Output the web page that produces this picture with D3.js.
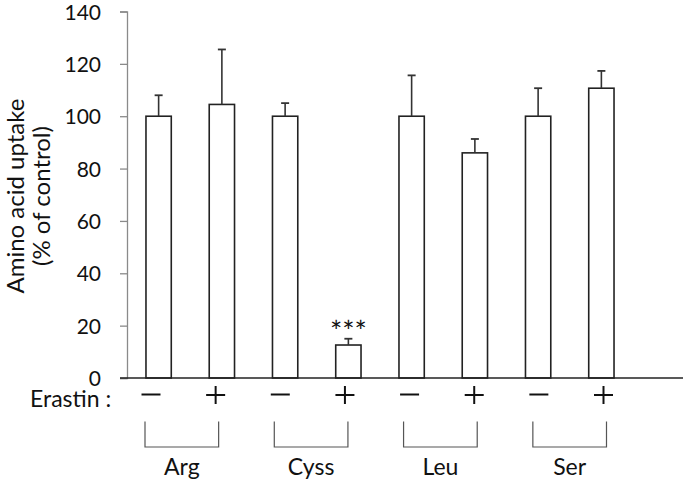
<!DOCTYPE html>
<html><head><meta charset="utf-8">
<script src="https://cdn.jsdelivr.net/npm/d3@7"></script>
<style>body{margin:0;background:#fff}svg{display:block}text{font-family:Lato,"Open Sans",sans-serif;fill:#111}</style>
</head><body><svg id="c" width="685" height="482"></svg>
<script>
const groups = ["Arg","Cyss","Leu","Ser"];
const treatments = ["−","+"];
const categories = ["Arg −","Arg +","Cyss −","Cyss +","Leu −","Leu +","Ser −","Ser +"];
const values = [100,104.5,100,12.6,100,86,100,110.7];
const errors = [8,21,5,2.4,15.6,5.3,10.7,6.6];
const stars = ["","","","***","","","",""];
const yTicks = [0,20,40,60,80,100,120,140];

const svg = d3.select("#c");
const y = d3.scaleLinear().domain([0,140]).range([378,11.5]);
const x = d3.scaleBand().domain(categories).range([127,633]).paddingInner(0.6).paddingOuter(0.3);
const lab = d3.scalePoint().domain(categories).range([151,603.5]);

// y axis
const ya = svg.append("g").attr("transform","translate(127,0)")
  .call(d3.axisLeft(y).tickValues(yTicks).tickSize(7).tickPadding(19));
ya.select(".domain").attr("stroke","#8a8a8a").attr("stroke-width",1.3);
ya.selectAll(".tick line").attr("stroke","#8a8a8a").attr("stroke-width",1.3);
ya.selectAll(".tick text").attr("font-size",21).attr("font-family","Lato").attr("fill","#111").attr("dy","0.36em");

// y label
const yl = svg.append("text").attr("transform","translate(24,196) rotate(-90)").attr("text-anchor","middle").attr("font-size",24);
yl.append("tspan").attr("x",0).attr("dy",0).text("Amino acid uptake");
yl.append("tspan").attr("x",0).attr("dy",26).text("(% of control)");

// bars
svg.selectAll("rect.bar").data(values).enter().append("rect")
  .attr("x",(d,i)=>x(categories[i])).attr("width",x.bandwidth())
  .attr("y",d=>y(d)).attr("height",d=>y(0)-y(d))
  .attr("fill","#fff").attr("stroke","#222").attr("stroke-width",1.6);

// error bars
const eb = svg.selectAll("g.err").data(values).enter().append("g");
eb.append("line").attr("x1",(d,i)=>x(categories[i])+x.bandwidth()/2).attr("x2",(d,i)=>x(categories[i])+x.bandwidth()/2)
  .attr("y1",d=>y(d)).attr("y2",(d,i)=>y(d+errors[i])).attr("stroke","#333").attr("stroke-width",1.6);
eb.append("line").attr("x1",(d,i)=>x(categories[i])+x.bandwidth()/2-4).attr("x2",(d,i)=>x(categories[i])+x.bandwidth()/2+4)
  .attr("y1",(d,i)=>y(d+errors[i])).attr("y2",(d,i)=>y(d+errors[i])).attr("stroke","#333").attr("stroke-width",1.8);

// stars
svg.selectAll("text.star").data(stars).enter().append("text")
  .attr("x",(d,i)=>x(categories[i])+x.bandwidth()/2).attr("y",(d,i)=>y(values[i]+errors[i])+3)
  .attr("text-anchor","middle").attr("font-size",29).attr("fill","#333").text(d=>d);

// x axis line
svg.append("line").attr("x1",120).attr("x2",683).attr("y1",y(0)).attr("y2",y(0)).attr("stroke","#222").attr("stroke-width",1.6);

// Erastin label and signs
svg.append("text").attr("x",30).attr("y",407).attr("font-size",23).text("Erastin :");
categories.forEach((c,i)=>{
  const cx = lab(c);
  if (i%2===0) {
    svg.append("line").attr("x1",cx-9.5).attr("x2",cx+9.5).attr("y1",394.5).attr("y2",394.5).attr("stroke","#111").attr("stroke-width",2);
  } else {
    svg.append("line").attr("x1",cx-9.5).attr("x2",cx+9.5).attr("y1",395).attr("y2",395).attr("stroke","#111").attr("stroke-width",2);
    svg.append("line").attr("x1",cx).attr("x2",cx).attr("y1",386).attr("y2",404).attr("stroke","#111").attr("stroke-width",2);
  }
});

// brackets
groups.forEach((g,k)=>{
  const x1 = lab(categories[2*k])-6, x2 = lab(categories[2*k+1])+3;
  svg.append("path").attr("d",`M${x1},421.5V447H${x2}V421.5`).attr("fill","none").attr("stroke","#555").attr("stroke-width",1.2);
  svg.append("text").attr("x",(x1+x2)/2).attr("y",475).attr("text-anchor","middle").attr("font-size",23).text(g);
});
</script></body></html>
